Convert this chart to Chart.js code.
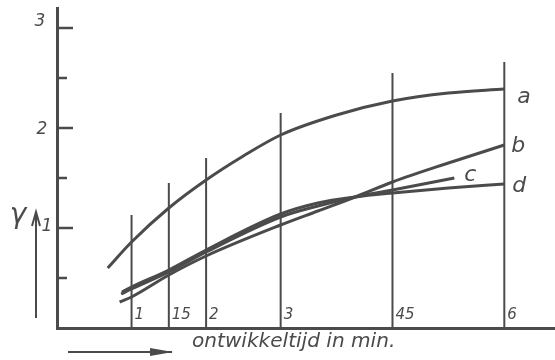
<!DOCTYPE html>
<html><head><meta charset="utf-8">
<script src="https://cdn.jsdelivr.net/npm/chart.js@4"></script>
<style>html,body{margin:0;padding:0;background:#fff}#w{width:555px;height:360px;position:relative}</style>
</head><body><div id="w"><canvas id="c"></canvas></div>
<script>
// curve data (x = ontwikkeltijd in min, y = gamma)
const aX=[0.68,1,1.5,2,2.5,3,3.75,4.5,5.25,6];
const aY=[0.60,0.86,1.20,1.48,1.72,1.93,2.13,2.27,2.35,2.39];
const bX=[0.84,1,1.5,2,3,3.5,4,4.5,5.25,6];
const bY=[0.26,0.31,0.53,0.72,1.03,1.17,1.31,1.46,1.65,1.83];
const cX=[0.86,1,1.5,2,3,3.5,4,4.5,5.33];
const cY=[0.34,0.39,0.56,0.76,1.11,1.22,1.31,1.38,1.50];
const dX=[0.87,1,1.5,2,3,3.5,4,4.5,5.25,6];
const dY=[0.36,0.41,0.58,0.78,1.14,1.25,1.31,1.35,1.40,1.44];
const curveNames=['a','b','c','d'];
// vertical reference lines
const vX=[1,1.5,2,3,4.5,6];
const vTop=[1.13,1.45,1.70,2.15,2.55,2.66];
const vLabels=['1','15','2','3','45','6'];
// y ticks
const yTickVals=[0.5,1,1.5,2,2.5,3];
const yLabelVals=[1,2,3];
const yLabels=['1','2','3'];
const xTitle='ontwikkeltijd in min.';
const yTitle='\u03b3';

const ink='#4b4b4b';
const pts=(xs,ys)=>xs.map((x,i)=>({x,y:ys[i]}));
const curves=[[aX,aY],[bX,bY],[cX,cY],[dX,dY]];
const ds=[];
curves.forEach((c,i)=>ds.push({label:curveNames[i],data:pts(c[0],c[1]),borderColor:ink,borderWidth:3,pointRadius:0,cubicInterpolationMode:'monotone',fill:false}));
vX.forEach((v,i)=>ds.push({label:'v'+i,data:[{x:v,y:0},{x:v,y:vTop[i]}],borderColor:ink,borderWidth:2,pointRadius:0,fill:false}));

const labelOffsets={a:[13,8],b:[7,1],c:[10,-3],d:[8,2]};
const yLabelPos={1:[-10,-1],2:[-15,2],3:[-17,-6]};
const deco={id:'deco',afterDraw(chart){
  const ctx=chart.ctx,xs=chart.scales.x,ys=chart.scales.y;
  ctx.save();
  ctx.strokeStyle=ink;ctx.fillStyle=ink;ctx.lineCap='butt';
  // inward ticks
  ctx.lineWidth=2.5;
  yTickVals.forEach(v=>{const py=ys.getPixelForValue(v);const len=Number.isInteger(v)?16:10;
    ctx.beginPath();ctx.moveTo(xs.left,py);ctx.lineTo(xs.left+len,py);ctx.stroke();});
  // y labels
  ctx.font='italic 17px "DejaVu Sans"';ctx.textAlign='center';ctx.textBaseline='middle';
  yLabelVals.forEach((v,i)=>{const o=yLabelPos[v];ctx.fillText(yLabels[i],xs.left+o[0],ys.getPixelForValue(v)+o[1]);});
  // x labels inside
  ctx.font='italic 15px "DejaVu Sans"';ctx.textAlign='left';ctx.textBaseline='alphabetic';
  const y0=ys.getPixelForValue(0);
  vX.forEach((v,i)=>ctx.fillText(vLabels[i],xs.getPixelForValue(v)+3,y0-9));
  // curve labels
  ctx.font='italic 22px "DejaVu Sans"';ctx.textBaseline='middle';
  curves.forEach((c,i)=>{const n=curveNames[i];const lx=c[0][c[0].length-1],ly=c[1][c[1].length-1];
    const o=labelOffsets[n];ctx.fillText(n,xs.getPixelForValue(lx)+o[0],ys.getPixelForValue(ly)+o[1]);});
  // y symbol and arrow
  ctx.font='italic 28px "DejaVu Sans"';ctx.textAlign='center';
  ctx.fillText(yTitle,18,216);
  ctx.lineWidth=2;
  ctx.beginPath();ctx.moveTo(36,318);ctx.lineTo(36,214);ctx.stroke();
  ctx.beginPath();ctx.moveTo(32,226);ctx.lineTo(36,212);ctx.lineTo(40,226);ctx.stroke();
  // x title
  let fs=18;ctx.font='italic '+fs+'px "DejaVu Sans"';
  const w=ctx.measureText(xTitle).width;fs=fs*203/w;
  ctx.font='italic '+fs.toFixed(1)+'px "DejaVu Sans"';ctx.textAlign='left';ctx.textBaseline='alphabetic';
  ctx.fillText(xTitle,192,347);
  ctx.lineWidth=2;
  ctx.beginPath();ctx.moveTo(68,352);ctx.lineTo(172,352);ctx.stroke();
  ctx.beginPath();ctx.moveTo(150,348);ctx.lineTo(173,352);ctx.lineTo(150,356);ctx.closePath();ctx.fill();
  ctx.restore();
}};

new Chart(document.getElementById('c'),{
  type:'line',
  data:{datasets:ds},
  options:{responsive:true,maintainAspectRatio:false,animation:false,
    layout:{padding:{top:8,right:0,bottom:0,left:0}},
    plugins:{legend:{display:false},tooltip:{enabled:false}},
    scales:{
      x:{type:'linear',min:0,max:6.68,ticks:{display:false},grid:{display:false},
         border:{color:ink,width:3},afterFit:s=>{s.height=32;}},
      y:{type:'linear',min:0,max:3.2,grid:{display:false},border:{color:ink,width:3},
         ticks:{display:false},
         afterFit:s=>{s.width=57;}}
    }},
  plugins:[deco]
});
</script></body></html>
